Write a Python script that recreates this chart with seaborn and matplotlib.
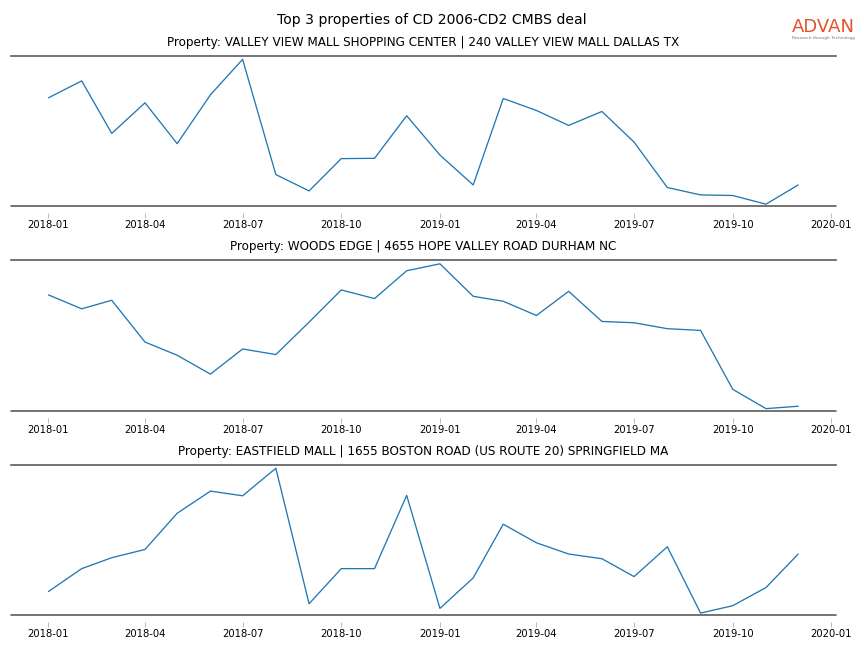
import matplotlib
matplotlib.use("Agg")
import matplotlib.pyplot as plt
import seaborn as sns
import pandas as pd

# monthly visits (relative units)
months = pd.date_range("2018-01-01", periods=24, freq="MS")
tick_months = pd.date_range("2018-01-01", "2020-01-01", freq="3MS")

titles = [
    "Property: VALLEY VIEW MALL SHOPPING CENTER | 240 VALLEY VIEW MALL DALLAS TX",
    "Property: WOODS EDGE | 4655 HOPE VALLEY ROAD DURHAM NC",
    "Property: EASTFIELD MALL | 1655 BOSTON ROAD (US ROUTE 20) SPRINGFIELD MA",
]

valley_view = [108.7, 125.7, 73.0, 103.7, 62.7, 111.7, 147.3, 31.7, 15.3, 47.7,
               48.0, 90.7, 51.3, 21.3, 108.0, 96.0, 81.0, 95.0, 64.3, 18.7,
               11.3, 10.7, 2.0, 21.3]
woods_edge = [116.4, 102.4, 111.0, 69.0, 55.7, 36.7, 62.0, 56.4, 89.0, 121.4,
              112.7, 140.7, 147.7, 115.0, 110.0, 95.7, 120.0, 89.7, 88.4, 82.4,
              80.7, 21.4, 2.0, 4.4]
eastfield = [23.7, 46.7, 57.7, 66.0, 102.4, 124.7, 120.0, 147.7, 11.4, 46.7,
             46.7, 120.4, 6.7, 37.4, 91.4, 72.7, 61.4, 56.7, 38.7, 68.7,
             2.0, 9.4, 27.7, 61.4]

series = [valley_view, woods_edge, eastfield]

sns.set_style("white")
plt.rcParams["font.family"] = ["DejaVu Sans"]
plt.rcParams["text.color"] = "black"
plt.rcParams["xtick.color"] = "black"

fig, axes = plt.subplots(3, 1, figsize=(12, 9), dpi=72)
fig.subplots_adjust(left=0.0127, right=0.9672, top=0.914, bottom=0.051, hspace=0.36)

for ax, title, vals in zip(axes, titles, series):
    df = pd.DataFrame({"month": months, "visits": vals})
    sns.lineplot(data=df, x="month", y="visits", ax=ax, color="#1f77b4", lw=1.3)
    lo, hi = min(vals), max(vals)
    rng = hi - lo
    ax.set_ylim(lo - rng * 0.013, hi + rng * 0.025)
    ax.set_title(title, fontsize=12, pad=10)
    ax.set_xlabel("")
    ax.set_ylabel("")
    ax.set_yticks([])
    ax.set_xticks(tick_months)
    ax.set_xticklabels([d.strftime("%Y-%m") for d in tick_months])
    ax.tick_params(axis="x", labelsize=10, length=5, width=0.8, color="#aaaaaa",
                   labelcolor="black", direction="out", bottom=True, pad=2)
    # ticks sit a little below the frame line
    ax.spines["bottom"].set_position(("outward", 7))
    for side in ["left", "right", "bottom"]:
        ax.spines[side].set_visible(False)
    ax.spines["top"].set_color("#555555")
    ax.spines["top"].set_linewidth(1.6)
    ax.axhline(ax.get_ylim()[0], color="#555555", lw=1.6, clip_on=False)

fig.suptitle("Top 3 properties of CD 2006-CD2 CMBS deal", fontsize=14, y=0.980)

# company mark in the top right corner
fig.text(0.9167, 0.950, "ADVAN", color="#e0532b", fontsize=18, ha="left",
         va="baseline")
fig.text(0.9167, 0.942, "Research through Technology", color="#777777",
         fontsize=4.3, ha="left", va="center")

fig.savefig("out.png", dpi=72)
